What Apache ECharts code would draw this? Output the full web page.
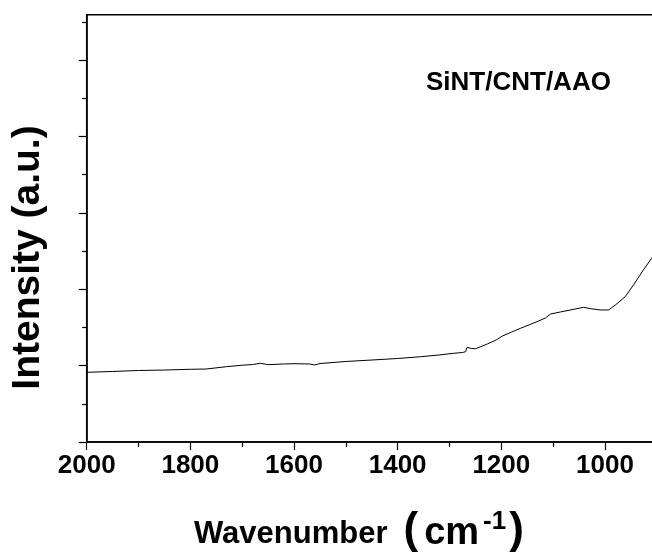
<!DOCTYPE html>
<html><head><meta charset="utf-8">
<script src="https://cdn.jsdelivr.net/npm/echarts@6/dist/echarts.min.js"></script>
<style>html,body{margin:0;padding:0;background:#fff}#c{width:652px;height:556px}</style>
</head><body><div id="c"></div>
<script>
// Wavenumber (cm-1) and intensity (a.u.)
const wavenumbers = [2000,1950,1900,1850,1800,1770,1730,1700,1680,1665,1655,1650,1620,1600,1570,1560,1550,1500,1450,1400,1356,1320,1292,1275,1269,1266,1258,1250,1240,1227,1210,1198,1180,1163,1131,1115,1105,1086,1060,1041,1028,1009,993,980,961,945,926,910,900];
const intensity = [0.912,0.923,0.936,0.942,0.952,0.955,0.986,1.005,1.014,1.030,1.018,1.012,1.021,1.025,1.021,1.008,1.027,1.054,1.073,1.093,1.116,1.139,1.161,1.171,1.182,1.240,1.224,1.221,1.247,1.283,1.335,1.387,1.440,1.488,1.575,1.623,1.675,1.702,1.737,1.763,1.745,1.728,1.728,1.793,1.902,2.055,2.251,2.404,2.500];
const xMajorTicks = [2000,1800,1600,1400,1200,1000];
const xMinorTicks = [1900,1700,1500,1300,1100,900];
const yMajorTicks = [0,1,2,3,4,5];
const yMinorTicks = [0.5,1.5,2.5,3.5,4.5,5.5];
const sampleLabel = 'SiNT/CNT/AAO';
const yTitle = 'Intensity (a.u.)';

const FONT = "'Liberation Sans', Arial, sans-serif";
const chart = echarts.init(document.getElementById('c'), null, {renderer: 'canvas'});
const common = {
  min: 900, max: 2000, inverse: true, type: 'value', position: 'bottom',
  splitLine: {show: false}
};
const yCommon = {type: 'value', min: 0, max: 5.593, position: 'left', splitLine: {show: false}};
chart.setOption({
  animation: false,
  backgroundColor: '#fff',
  grid: {left: 86.7, top: 14.7, right: -4.8, bottom: 114, show: true, borderColor: '#000', borderWidth: 1.5, containLabel: false, outerBoundsMode: 'none'},
  xAxis: [
    Object.assign({}, common, {
      axisLine: {lineStyle: {color: '#000', width: 1.5}},
      axisTick: {customValues: xMajorTicks, length: 8, lineStyle: {color: '#000', width: 1.2}},
      axisLabel: {customValues: xMajorTicks, margin: 11, fontSize: 26, fontWeight: 'bold', color: '#000', fontFamily: FONT,
        formatter: v => String(v)}
    }),
    Object.assign({}, common, {
      axisLine: {show: false},
      axisTick: {customValues: xMinorTicks, length: 5, lineStyle: {color: '#000', width: 1.2}},
      axisLabel: {show: false}
    })
  ],
  yAxis: [
    Object.assign({}, yCommon, {
      axisLine: {lineStyle: {color: '#000', width: 1.5}},
      axisTick: {customValues: yMajorTicks, length: 8, lineStyle: {color: '#000', width: 1.2}},
      axisLabel: {show: false}
    }),
    Object.assign({}, yCommon, {
      axisLine: {show: false},
      axisTick: {customValues: yMinorTicks, length: 4.5, lineStyle: {color: '#000', width: 1.2}},
      axisLabel: {show: false}
    })
  ],
  graphic: [
    {type: 'text', x: 426, y: 82.5, silent: true, style: {text: sampleLabel, fill: '#000', fontSize: 26, fontWeight: 'bold', fontFamily: FONT, textAlign: 'left', textVerticalAlign: 'middle'}},
    {type: 'text', x: 28, y: 257.5, rotation: Math.PI / 2, silent: true, style: {text: yTitle, fill: '#000', fontSize: 39, fontWeight: 'bold', fontFamily: FONT, textAlign: 'center', textVerticalAlign: 'middle'}},
    {type: 'text', x: 194, y: 531, silent: true, style: {
      text: '{a|Wavenumber}{p|(}{c|cm}{s|-1}{q|)}',
      textAlign: 'left', textVerticalAlign: 'middle', fill: '#000',
      rich: {
        a: {fontSize: 31, fontWeight: 'bold', fontFamily: FONT, fill: '#000', padding: [0, 0, 3, 0], verticalAlign: 'bottom'},
        p: {fontSize: 44, fontWeight: 'bold', fontFamily: FONT, fill: '#000', padding: [0, 0, 0, 16], verticalAlign: 'bottom'},
        c: {fontSize: 38, fontWeight: 'bold', fontFamily: FONT, fill: '#000', padding: [0, 0, 0, 6], verticalAlign: 'bottom'},
        s: {fontSize: 26, fontWeight: 'bold', fontFamily: FONT, fill: '#000', padding: [0, 3, 0, 4], verticalAlign: 'top'},
        q: {fontSize: 44, fontWeight: 'bold', fontFamily: FONT, fill: '#000', verticalAlign: 'bottom'}
      }
    }}
  ],
  series: [{
    type: 'line', xAxisIndex: 0, yAxisIndex: 0, showSymbol: false, smooth: false,
    lineStyle: {color: '#000', width: 1},
    data: wavenumbers.map((w, i) => [w, intensity[i]])
  }]
});
</script>
</body></html>
